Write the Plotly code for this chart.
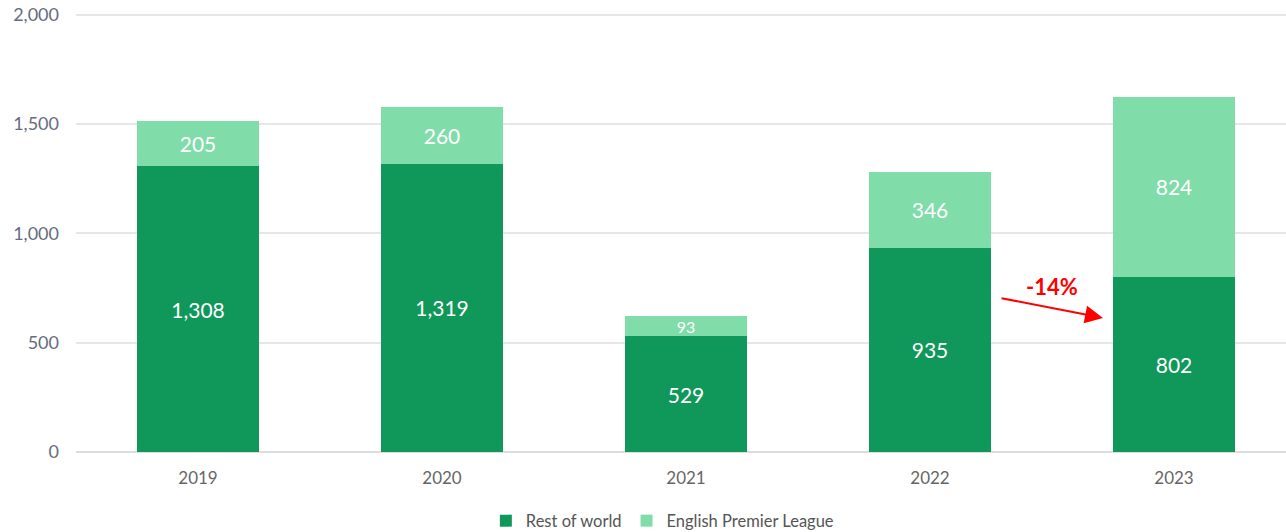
import plotly.graph_objects as go

years = ["2019", "2020", "2021", "2022", "2023"]
rest_of_world = [1308, 1319, 529, 935, 802]
epl = [205, 260, 93, 346, 824]
y_ticks = [0, 500, 1000, 1500, 2000]
y_tick_text = ["0", "500", "1,000", "1,500", "2,000"]

dark = "#10975A"
light = "#80DDA9"
font = "Lato, 'Open Sans', sans-serif"

epl_sizes = [21 if v > 150 else 16 for v in epl]

fig = go.Figure()
fig.add_trace(go.Bar(
    x=years, y=rest_of_world, name="Rest of world", marker_color=dark,
    marker_line_width=0, width=0.5,
    text=[f"{v:,}" for v in rest_of_world], textposition="inside", textangle=0,
    insidetextanchor="middle", textfont=dict(color="white", size=21, family=font),
    constraintext="none",
))
fig.add_trace(go.Bar(
    x=years, y=epl, name="English Premier League", marker_color=light,
    marker_line_width=0, width=0.5,
    text=[f"{v:,}" for v in epl], textposition="inside", textangle=0,
    insidetextanchor="middle", textfont=dict(color="white", size=epl_sizes, family=font),
    constraintext="none",
))

fig.add_annotation(x=3.709, y=613, ax=3.287, ay=705, xref="x", yref="y",
                   axref="x", ayref="y", text="", showarrow=True,
                   arrowhead=2, arrowsize=1.8, arrowwidth=2, arrowcolor="#FF0000")
fig.add_annotation(x=3.50, y=757, xref="x", yref="y", text="<b>-14%</b>",
                   showarrow=False, font=dict(color="#FF0000", size=22, family=font))

fig.update_layout(
    barmode="stack",
    width=1286, height=532,
    margin=dict(l=76, r=0, t=13, b=80, autoexpand=False),
    plot_bgcolor="white", paper_bgcolor="white",
    font=dict(family=font, color="#666666"),
    showlegend=True,
    legend=dict(orientation="h", x=0.485, xanchor="center", y=-0.157, yanchor="middle",
                font=dict(size=16.5, color="#555555"), itemsizing="constant",
                traceorder="normal", itemwidth=30),
    xaxis=dict(range=[-0.5, 4.459], tickfont=dict(size=17, color="#666666"),
               showgrid=False, showline=False, ticks="", automargin=False,
               ticklabelstandoff=14),
    yaxis=dict(range=[0, 2008], tickvals=y_ticks, ticktext=y_tick_text,
               tickfont=dict(size=18, color="#666B80"), gridcolor="#E6E6E6",
               gridwidth=2, zeroline=True, zerolinecolor="#DDDDDD", zerolinewidth=2,
               ticks="", automargin=False, ticklabelstandoff=16,
               ticklabeloverflow="allow"),
)

fig.write_html("out.html", config={"displayModeBar": False},
               post_script="document.body.style.margin='0';")
